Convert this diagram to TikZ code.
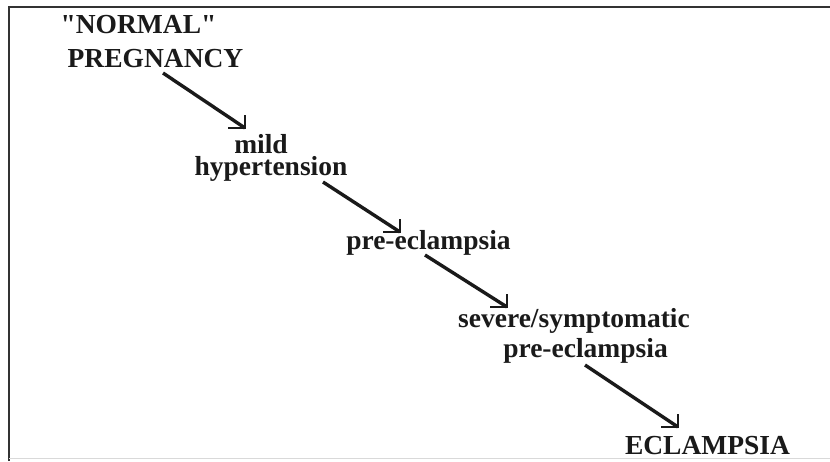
\documentclass[tikz,border=0pt]{standalone}
\usepackage{fontspec}
\setmainfont{Liberation Serif}[Ligatures=TeXOff]
\usetikzlibrary{calc}
\definecolor{ink}{HTML}{1A1A1A}
\definecolor{framec}{HTML}{333333}
\tikzset{
  stage/.style={anchor=base, inner sep=0pt, text=ink,
    font=\fontsize{27.5}{30}\selectfont\bfseries},
  shaft/.style={draw=ink, line width=3.4pt, line cap=butt},
  barb/.style={draw=ink, line width=2.8pt, line join=miter},
  frameline/.style={draw=framec, line width=2.4pt},
}
\begin{document}
\begin{tikzpicture}[x=1pt, y=1pt]
  \useasboundingbox (0,0) rectangle (830,-461);
  % open frame: top and left edges, faint bottom edge
  \draw[frameline] (9,-461) -- (9,-7) -- (830,-7);
  \draw[draw=black!15, line width=0.8pt] (9,-458.5) -- (830,-458.5);

  % stage labels, one node per printed line
  \node[stage] (normal) at (138.5,-33) {"NORMAL"};
  \node[stage] (preg)   at (155.5,-67) {PREGNANCY};
  \node[stage, text depth=0pt] (mild) at (261,-153.5) {mild};
  \node[stage] (hyper)  at (271,-175)  {hypertension};
  \node[stage] (pe)     at (428.5,-249) {pre-eclampsia};
  \node[stage, text depth=0pt] (severe) at (574,-327) {severe/symptomatic};
  \node[stage] (sevpe)  at (585.5,-357) {pre-eclampsia};
  \node[stage] (ecl)    at (707.5,-454) {ECLAMPSIA};

  % arrow ends
  \coordinate (s1) at ([shift={(7.5,-6)}]preg.base);
  \coordinate (t1) at ([shift={(-16,25.5)}]mild.base);
  \coordinate (s2) at ([shift={(52,-7)}]hyper.base);
  \coordinate (t2) at ([shift={(-28.5,17)}]pe.base);
  \coordinate (s3) at ([shift={(-3.5,-6)}]pe.base);
  \coordinate (t3) at ([shift={(-67,20)}]severe.base);
  \coordinate (s4) at ([shift={(-0.5,-8)}]sevpe.base);
  \coordinate (t4) at ([shift={(-29.5,27)}]ecl.base);

  % progression arrows with square open heads
  \foreach \i in {1,2,3,4}{
    \draw[shaft] (s\i) -- (t\i);
    \draw[barb] ([xshift=-17]t\i) -- (t\i) -- ([yshift=13]t\i);
  }
\end{tikzpicture}
\end{document}
